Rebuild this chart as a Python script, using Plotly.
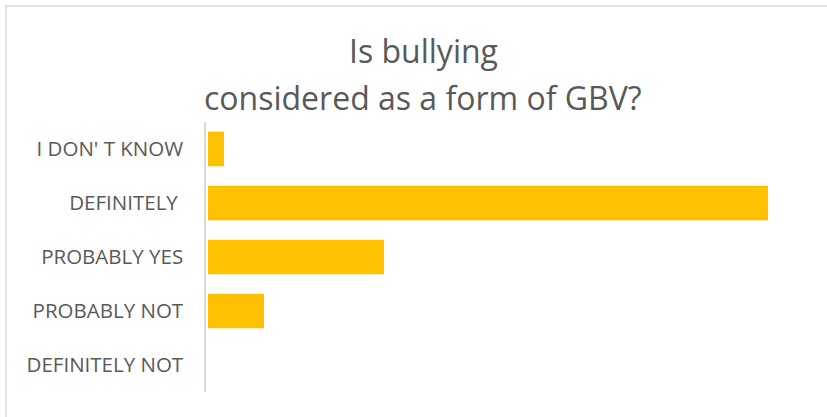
import plotly.graph_objects as go

# Survey answers, listed top to bottom as shown on the chart
categories = ["I DON' T KNOW", "DEFINITELY\u00a0", "PROBABLY YES", "PROBABLY NOT", "DEFINITELY NOT"]
values = [2, 70, 22, 7, 0]

title_lines = ["Is bullying", "considered as a form of GBV?"]

W, H = 827, 417
ML, MR, MT, MB = 206, 21, 122, 25
PW, PH = W - ML - MR, H - MT - MB


def px_x(px):
    return (px - ML) / PW


def px_y(py):
    return (H - MB - py) / PH


BAR = "#FFC000"
TEXT = "#595959"
LINE = "#D9D9D9"

fig = go.Figure(
    go.Bar(
        x=values,
        y=categories,
        orientation="h",
        marker=dict(color=BAR, line=dict(width=0)),
        hoverinfo="x+y",
    )
)

fig.update_layout(
    width=W,
    height=H,
    margin=dict(l=ML, r=MR, t=MT, b=MB, pad=0),
    paper_bgcolor="white",
    plot_bgcolor="white",
    showlegend=False,
    bargap=0.36,
    font=dict(family="Open Sans", color=TEXT),
    xaxis=dict(visible=False, range=[-0.25, 74.75], fixedrange=True),
    yaxis=dict(
        autorange="reversed",
        showline=True,
        linecolor=LINE,
        linewidth=1.5,
        showgrid=False,
        ticks="",
        ticklabelstandoff=17,
        tickfont=dict(family="Open Sans", size=20.5, color=TEXT),
        automargin=False,
    ),
    shapes=[
        dict(
            type="rect",
            xref="paper",
            yref="paper",
            x0=px_x(6),
            x1=px_x(900),
            y0=px_y(450),
            y1=px_y(6),
            line=dict(color=LINE, width=1.5),
            fillcolor="rgba(0,0,0,0)",
            layer="below",
        )
    ],
    annotations=[
        dict(
            text=title_lines[0],
            xref="paper",
            yref="paper",
            x=px_x(423),
            y=px_y(50),
            xanchor="center",
            yanchor="middle",
            showarrow=False,
            font=dict(family="Open Sans", size=32, color=TEXT),
        ),
        dict(
            text=title_lines[1],
            xref="paper",
            yref="paper",
            x=px_x(423),
            y=px_y(97),
            xanchor="center",
            yanchor="middle",
            showarrow=False,
            font=dict(family="Open Sans", size=32, color=TEXT),
        ),
    ],
)

fig.write_html("out.html")
